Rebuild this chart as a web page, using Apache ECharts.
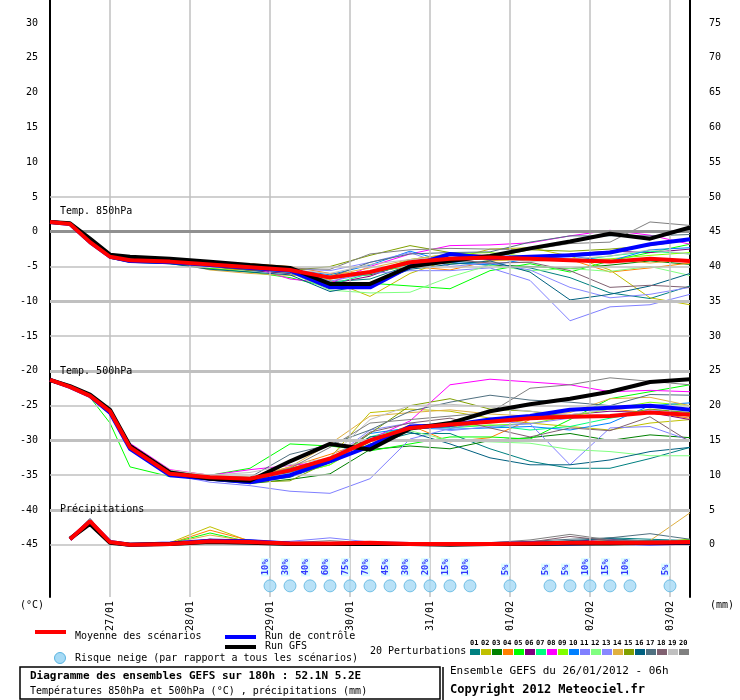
<!DOCTYPE html>
<html>
<head>
<meta charset="utf-8">
<script src="https://cdn.jsdelivr.net/npm/echarts@6/dist/echarts.min.js"></script>
<style>html,body{margin:0;padding:0;background:#fff}#chart{width:740px;height:700px}</style>
</head>
<body>
<div id="chart"></div>
<script>
// heures depuis le 26/01/2012 06h
var hours = [0,6,12,18,24,36,48,60,72,84,96,108,120,132,144,156,168,180,192];
var dayHours = [18,42,66,90,114,138,162,186];
var dayLabels = ['27/01','28/01','29/01','30/01','31/01','01/02','02/02','03/02'];
var pertColors = ['#008080','#c0c000','#008000','#ff8000','#00ff00','#800080','#00ff80','#ff00ff','#80ff00','#0080ff',
                  '#8080ff','#80ff80','#8888ff','#e0b040','#80a000','#006080','#507080','#806070','#c0c0c0','#808080'];

var t850Mean = [1.4,1.1,-1.5,-3.6,-4.1,-4.3,-4.7,-5.1,-5.5,-6.6,-5.8,-4.4,-3.9,-3.7,-3.9,-4.1,-4.3,-3.9,-4.2];
var t850Ctrl = [1.4,1.1,-1.5,-3.6,-4.2,-4.4,-4.8,-5.2,-5.6,-8.0,-8.0,-5.0,-3.2,-3.8,-3.6,-3.4,-3.0,-1.8,-1.1];
var t850Gfs  = [1.4,1.2,-1.0,-3.3,-3.6,-3.9,-4.3,-4.8,-5.2,-7.5,-7.5,-5.0,-4.2,-3.5,-2.4,-1.4,-0.3,-1.0,0.6];
var t850Pert = [
  [1.5,1.2,-1.4,-3.7,-4.3,-4.4,-5.0,-5.6,-6.0,-7.2,-6.8,-4.8,-4.2,-4.6,-5.2,-6.6,-8.8,-9.6,-7.8],
  [1.4,1.1,-1.6,-3.8,-4.4,-4.5,-5.3,-5.5,-5.8,-7.0,-9.3,-6.0,-4.0,-2.5,-2.3,-3.5,-5.5,-9.5,-10.5],
  [1.5,1.2,-1.5,-3.6,-4.1,-4.3,-4.9,-5.2,-5.7,-6.5,-6.2,-4.6,-4.5,-4.8,-5.0,-5.3,-4.8,-4.2,-4.7],
  [1.6,1.3,-1.3,-3.4,-4.0,-4.0,-4.4,-4.6,-5.0,-6.0,-5.8,-5.0,-5.5,-4.2,-3.8,-4.0,-5.8,-5.2,-4.5],
  [1.5,1.2,-1.5,-3.8,-4.3,-4.6,-5.3,-5.8,-6.6,-8.0,-7.4,-7.8,-8.2,-5.6,-4.6,-5.8,-4.2,-3.0,-1.8],
  [1.5,1.2,-1.4,-3.6,-4.1,-4.3,-5.0,-5.5,-6.0,-7.5,-6.4,-4.3,-3.2,-3.4,-3.8,-3.2,-2.8,-3.0,-2.5],
  [1.5,1.2,-1.5,-3.6,-4.0,-4.2,-4.6,-5.2,-5.5,-7.6,-6.0,-4.8,-3.8,-3.6,-3.9,-4.2,-3.5,-2.8,-3.2],
  [1.5,1.2,-1.3,-3.5,-4.1,-4.4,-4.6,-5.0,-6.8,-7.4,-5.0,-3.2,-2.0,-1.9,-1.6,-0.6,0.2,-0.5,-1.8],
  [1.5,1.1,-1.6,-3.7,-4.2,-4.4,-4.9,-5.3,-5.8,-6.8,-6.0,-4.0,-3.2,-3.0,-3.6,-4.1,-3.9,-3.4,-3.0],
  [1.5,1.2,-1.5,-3.6,-4.1,-4.3,-4.8,-5.0,-5.4,-6.2,-4.8,-2.8,-4.4,-4.8,-3.9,-3.5,-4.2,-2.6,-2.3],
  [1.5,1.2,-1.4,-3.6,-4.2,-4.4,-5.0,-5.4,-5.4,-7.1,-6.0,-5.6,-5.6,-5.2,-7.0,-12.8,-10.8,-10.5,-9.0],
  [1.5,1.2,-1.5,-3.7,-4.2,-4.4,-4.9,-5.4,-5.9,-8.4,-8.8,-8.7,-6.5,-4.8,-5.6,-5.3,-5.7,-5.0,-6.3],
  [1.5,1.2,-1.5,-3.6,-4.2,-4.5,-4.8,-5.2,-5.3,-5.6,-4.4,-3.0,-5.0,-4.5,-5.5,-8.0,-9.5,-9.0,-8.0],
  [1.5,1.2,-1.3,-3.5,-4.0,-4.3,-5.5,-6.0,-6.3,-6.3,-5.2,-4.0,-3.2,-4.2,-4.0,-4.2,-4.0,-4.5,-4.0],
  [1.5,1.2,-1.5,-3.7,-4.2,-4.5,-5.0,-5.5,-5.6,-5.0,-3.4,-2.0,-3.0,-3.7,-2.6,-2.8,-2.5,-2.0,-1.2],
  [1.5,1.2,-1.6,-3.8,-4.4,-4.6,-5.4,-5.8,-6.2,-8.6,-7.6,-5.4,-4.7,-4.2,-5.8,-9.8,-9.0,-7.8,-6.0],
  [1.5,1.2,-1.4,-3.6,-4.1,-4.3,-4.8,-5.0,-5.6,-6.5,-4.4,-3.2,-3.0,-2.9,-1.5,-0.6,-0.6,-0.6,-0.4],
  [1.5,1.2,-1.5,-3.7,-4.2,-4.4,-4.9,-5.3,-5.5,-6.4,-5.8,-4.5,-4.0,-4.5,-4.4,-5.6,-8.0,-7.7,-8.0],
  [1.5,1.2,-1.5,-3.6,-4.1,-4.3,-4.7,-5.0,-5.4,-6.0,-4.7,-4.0,-3.6,-3.8,-4.3,-3.9,-3.5,-2.6,-3.2],
  [1.5,1.2,-1.4,-3.6,-4.1,-4.3,-4.6,-4.9,-5.3,-5.4,-3.2,-2.6,-2.4,-2.5,-2.6,-1.7,-1.5,1.4,0.9]
];

var t500Mean = [-21.3,-22.3,-23.6,-25.8,-31.0,-34.8,-35.3,-35.5,-34.3,-32.6,-30.0,-28.2,-27.7,-27.3,-26.8,-26.6,-26.5,-26.0,-26.3];
var t500Ctrl = [-21.3,-22.3,-23.6,-26.0,-31.2,-35.0,-35.5,-36.0,-35.0,-33.0,-30.8,-28.0,-27.8,-27.0,-26.5,-25.6,-25.3,-25.0,-25.6];
var t500Gfs  = [-21.3,-22.2,-23.4,-25.6,-30.8,-34.6,-35.5,-35.8,-33.0,-30.5,-31.3,-28.3,-27.5,-25.8,-24.8,-24.0,-23.0,-21.6,-21.2];
var t500Pert = [
  [-21.5,-22.3,-23.5,-26.0,-30.8,-34.6,-35.5,-36.0,-35.3,-33.2,-30.5,-29.0,-29.0,-31.2,-33.0,-34.0,-34.0,-32.6,-31.0],
  [-21.5,-22.3,-23.6,-25.9,-30.6,-34.4,-35.2,-35.6,-34.0,-32.5,-26.0,-25.5,-25.8,-26.8,-27.5,-28.0,-28.5,-27.5,-27.0],
  [-21.5,-22.3,-23.7,-26.3,-31.2,-34.8,-35.7,-36.2,-35.6,-34.8,-31.3,-30.8,-31.2,-30.0,-29.6,-29.0,-30.0,-29.2,-29.6],
  [-21.5,-22.3,-23.6,-25.9,-30.8,-34.5,-35.2,-35.5,-33.8,-32.0,-30.0,-27.8,-30.2,-29.6,-27.0,-25.5,-25.5,-26.0,-26.8],
  [-21.5,-22.3,-23.8,-27.5,-33.8,-35.2,-35.0,-34.0,-30.5,-30.8,-31.5,-30.5,-29.5,-29.5,-29.8,-27.0,-24.0,-23.0,-22.0],
  [-21.5,-22.3,-23.5,-25.8,-30.7,-34.4,-35.3,-35.8,-35.2,-33.0,-30.0,-28.3,-27.5,-27.0,-26.5,-26.3,-25.8,-26.0,-27.0],
  [-21.5,-22.3,-23.6,-25.9,-30.8,-34.5,-35.4,-35.8,-35.0,-33.5,-29.5,-28.0,-28.2,-27.8,-28.5,-28.0,-26.8,-25.8,-26.5],
  [-21.5,-22.3,-23.4,-25.6,-30.4,-34.2,-35.0,-34.2,-33.6,-33.0,-29.8,-27.2,-22.0,-21.2,-21.6,-22.0,-23.0,-22.8,-23.0],
  [-21.5,-22.3,-23.6,-26.0,-30.9,-34.6,-35.5,-35.9,-35.0,-33.5,-30.2,-28.3,-28.0,-27.8,-27.6,-26.5,-25.5,-24.5,-25.0],
  [-21.5,-22.3,-23.6,-25.9,-30.8,-34.5,-35.4,-35.7,-34.6,-33.0,-29.0,-28.2,-28.4,-28.2,-28.0,-28.5,-27.5,-25.0,-24.6],
  [-21.5,-22.3,-23.7,-26.2,-31.1,-34.9,-36.0,-36.5,-37.3,-37.6,-35.5,-29.8,-28.3,-27.2,-27.6,-33.5,-28.2,-28.0,-30.0],
  [-21.5,-22.3,-23.6,-26.0,-30.9,-34.6,-35.5,-35.7,-34.6,-32.5,-29.5,-28.6,-30.0,-30.2,-30.4,-31.3,-31.6,-32.2,-32.2],
  [-21.5,-22.3,-23.6,-25.9,-30.8,-34.5,-35.3,-35.6,-34.5,-32.8,-28.5,-27.5,-28.6,-28.0,-27.6,-26.8,-26.5,-25.6,-26.0],
  [-21.5,-22.3,-23.5,-25.7,-30.6,-34.3,-35.0,-35.3,-33.8,-30.5,-26.5,-26.0,-25.6,-26.2,-26.5,-26.0,-24.0,-23.8,-25.0],
  [-21.5,-22.3,-23.6,-25.9,-30.8,-34.6,-35.5,-36.0,-35.8,-33.0,-29.0,-25.0,-24.0,-25.5,-25.8,-26.6,-26.5,-25.5,-26.0],
  [-21.5,-22.3,-23.6,-26.0,-30.9,-34.6,-35.5,-35.8,-34.5,-33.0,-29.5,-28.8,-30.5,-32.5,-33.5,-33.5,-32.8,-31.6,-31.0],
  [-21.5,-22.3,-23.5,-25.8,-30.7,-34.4,-35.2,-35.3,-32.0,-30.6,-28.5,-25.8,-24.5,-23.5,-24.2,-24.5,-25.0,-23.4,-23.5],
  [-21.5,-22.3,-23.6,-25.9,-30.8,-34.5,-35.5,-35.4,-34.0,-33.0,-28.8,-27.5,-26.8,-28.2,-29.5,-28.2,-28.6,-26.6,-30.2],
  [-21.5,-22.3,-23.5,-25.8,-30.6,-34.3,-35.0,-34.6,-33.5,-32.5,-27.0,-25.0,-24.8,-25.2,-25.8,-26.3,-25.5,-25.0,-25.5],
  [-21.5,-22.3,-23.6,-25.9,-30.8,-34.5,-35.4,-35.6,-34.0,-31.0,-27.5,-27.0,-26.5,-26.0,-22.5,-22.0,-21.0,-21.5,-22.0]
];

// precipitations en mm (axe de droite)
var rrMean = [null,0.8,3.4,0.4,0,0.1,0.5,0.4,0.2,0.2,0.3,0.1,0.1,0.1,0.2,0.3,0.3,0.3,0.4];
var rrCtrl = [null,0.8,3.3,0.4,0,0.2,0.6,0.5,0.2,0.1,0.2,0.1,0.1,0.1,0.2,0.2,0.3,0.2,0.3];
var rrGfs  = [null,0.9,3.0,0.3,0,0.1,0.4,0.3,0.1,0.1,0.1,0.1,0,0.1,0.1,0.2,0.2,0.3,0.3];
var rrPert = [
  [null,0.8,3.5,0.4,0,0.2,0.5,0.4,0.2,0.1,0.1,0.1,0.1,0.2,0.2,0.4,1.0,0.8,0.6],
  [null,0.7,3.1,0.3,0,0.3,2.6,0.5,0.2,0.1,0.2,0.1,0,0.1,0.3,0.2,0.4,0.3,0.8],
  [null,0.8,3.3,0.2,0,0.1,0.8,0.3,0.1,0.1,0.2,0.1,0.1,0.2,0.1,0.4,0.2,0.3,0.5],
  [null,0.7,3.1,0.3,0,0.2,2.1,0.6,0.2,0.3,0.2,0.1,0.1,0.1,0.2,0.3,0.5,0.4,0.3],
  [null,0.8,3.2,0.3,0,0.2,1.7,0.4,0.2,0.2,0.1,0.1,0,0.1,0.2,0.3,0.6,0.4,0.7],
  [null,0.8,3.4,0.4,0,0.1,0.4,0.2,0.1,0.1,0.1,0,0.1,0.1,0.3,0.5,0.8,0.4,0.3],
  [null,0.9,3.6,0.4,0,0.2,0.6,0.3,0.2,0.1,0.1,0.1,0,0.1,0.2,0.2,0.3,0.2,0.4],
  [null,0.8,3.2,0.3,0,0.1,0.2,0.1,0.1,0.1,0,0,0,0.1,0.1,0.2,0.1,0.2,0.1],
  [null,0.7,3.3,0.3,0,0.2,0.5,0.3,0.2,0.2,0.1,0.1,0.1,0.2,0.1,0.3,0.4,0.5,0.3],
  [null,0.8,3.5,0.4,0,0.2,0.5,0.4,0.1,0.1,0.2,0.1,0,0.1,0.2,0.2,0.2,0.3,0.2],
  [null,0.9,3.7,0.5,0,0.3,0.6,0.4,0.5,1.0,0.4,0.1,0.1,0.2,0.3,0.4,0.5,0.6,0.5],
  [null,0.7,3.2,0.3,0,0.2,0.4,0.3,0.2,0.1,0.2,0.1,0.1,0.1,0.2,0.3,0.4,0.3,0.4],
  [null,0.8,3.4,0.3,0,0.2,0.6,0.4,0.2,0.3,0.2,0.1,0,0.1,0.3,0.4,0.5,0.4,0.6],
  [null,0.8,3.3,0.4,0,0.2,1.4,0.5,0.2,0.2,0.1,0.1,0.1,0.2,0.2,0.3,0.4,0.6,4.6],
  [null,0.8,3.1,0.3,0,0.1,0.5,0.2,0.1,0.1,0.1,0.1,0.1,0.2,0.2,0.3,0.3,0.4,0.5],
  [null,0.8,3.4,0.4,0,0.2,0.6,0.4,0.2,0.2,0.2,0.1,0.1,0.2,0.3,0.6,0.9,0.5,0.4],
  [null,0.9,3.8,0.4,0,0.2,0.5,0.4,0.2,0.2,0.2,0.1,0.1,0.3,0.5,0.8,1.0,1.6,0.8],
  [null,0.7,3.2,0.3,0,0.2,0.7,0.6,0.3,0.2,0.2,0.1,0.1,0.2,0.4,1.2,0.6,0.4,0.5],
  [null,0.8,3.3,0.3,0,0.1,0.4,0.2,0.1,0.1,0.1,0.1,0,0.1,0.2,0.3,0.3,0.3,0.3],
  [null,0.8,3.6,0.4,0,0.2,0.8,0.7,0.3,0.6,0.3,0.1,0.1,0.3,0.7,1.5,0.7,0.6,0.5]
];

// risque neige
var snowHours = [66,72,78,84,90,96,102,108,114,120,126,138,150,156,162,168,174,186];
var snowPct   = [10,30,40,60,75,70,45,30,20,15,10,5,5,5,10,15,10,5];

function pairs(vals, shift) {
  return hours.map(function (h, i) {
    return [h, vals[i] == null ? null : vals[i] + shift];
  });
}
function line(vals, color, width, z, shift) {
  return {
    type: 'line', data: pairs(vals, shift || 0), showSymbol: false, silent: true,
    lineStyle: { color: color, width: width }, itemStyle: { color: color }, z: z, animation: false
  };
}

var series = [];
var hLines = [];
for (var v = -45; v <= 5; v += 5) {
  hLines.push({ yAxis: v, lineStyle: { color: v === 0 ? '#909090' : '#c0c0c0', width: (v % 10 === 0) ? 3 : 1.5 } });
}
var vLines = dayHours.map(function (h) { return { xAxis: h }; });
series.push({
  type: 'line', data: [], silent: true, z: 1,
  markLine: { symbol: 'none', silent: true, label: { show: false }, animation: false,
    lineStyle: { color: '#c0c0c0', width: 1.5, type: 'solid' }, data: vLines.concat(hLines) }
});

var k;
for (k = 0; k < 20; k++) series.push(line(t850Pert[k], pertColors[k], 1, 2));
for (k = 0; k < 20; k++) series.push(line(t500Pert[k], pertColors[k], 1, 2));
for (k = 0; k < 20; k++) series.push(line(rrPert[k], pertColors[k], 1, 2, -45));
[[t850Ctrl, t850Gfs, t850Mean], [t500Ctrl, t500Gfs, t500Mean], [rrCtrl, rrGfs, rrMean]].forEach(function (g, i) {
  var sh = i === 2 ? -45 : 0;
  series.push(line(g[0], '#0000ff', 4, 5, sh));
  series.push(line(g[1], '#000000', 4, 6, sh));
  series.push(line(g[2], '#ff0000', 4, 7, sh));
});
series.push({
  type: 'scatter', z: 8, silent: true, animation: false,
  data: snowHours.map(function (h, i) { return [h, -50.9, snowPct[i]]; }),
  symbol: 'circle', symbolSize: 12,
  itemStyle: { color: '#a6daf5', borderColor: '#5ab4e0', borderWidth: 1 },
  label: { show: true, position: 'top', rotate: 90, distance: 3, align: 'left',
    formatter: function (p) { return p.value[2] + '%'; },
    color: '#0000ff', fontSize: 9, fontWeight: 'bold', fontFamily: 'DejaVu Sans Mono',
    backgroundColor: '#d6fbff', padding: [0, 1] }
});

var mono = 'DejaVu Sans Mono';
var leftVals = [], rightVals = [];
for (var a = -45; a <= 30; a += 5) { leftVals.push(a); rightVals.push(a + 45); }

function txt(x, y, s, font) {
  return { type: 'text', left: x, top: y, z: 100, style: { text: s, font: font || ('10px ' + mono), fill: '#000' } };
}
var graphics = [
  txt(60, 206, 'Temp. 850hPa'),
  txt(60, 366, 'Temp. 500hPa'),
  txt(60, 504, 'Précipitations'),
  txt(20, 600, '(°C)'),
  txt(710, 600, '(mm)'),
  { type: 'rect', shape: { x: 35, y: 630, width: 31, height: 4 }, style: { fill: '#ff0000' } },
  txt(75, 631, 'Moyenne des scénarios'),
  { type: 'rect', shape: { x: 225, y: 635, width: 31, height: 4 }, style: { fill: '#0000ff' } },
  txt(265, 631, 'Run de contrôle'),
  { type: 'rect', shape: { x: 225, y: 645, width: 31, height: 4 }, style: { fill: '#000000' } },
  txt(265, 641, 'Run GFS'),
  { type: 'circle', shape: { cx: 60, cy: 658, r: 5.5 }, style: { fill: '#a6daf5', stroke: '#5ab4e0' } },
  txt(75, 653, 'Risque neige (par rapport a tous les scénarios)'),
  txt(370, 646, '20 Perturbations'),
  { type: 'rect', shape: { x: 20, y: 667, width: 420, height: 32 }, style: { fill: 'none', stroke: '#000', lineWidth: 1.5 } },
  txt(30, 671, 'Diagramme des ensembles GEFS sur 180h : 52.1N 5.2E', 'bold 11px ' + mono),
  txt(30, 686, 'Températures 850hPa et 500hPa (°C) , précipitations (mm)'),
  { type: 'line', shape: { x1: 443, y1: 667, x2: 443, y2: 700 }, style: { stroke: '#000', lineWidth: 1.5 } },
  txt(450, 666, 'Ensemble GEFS du 26/01/2012 - 06h', '11px ' + mono),
  txt(450, 684, 'Copyright 2012 Meteociel.fr', 'bold 12px ' + mono)
];
pertColors.forEach(function (c, i) {
  var x = 470 + i * 11;
  graphics.push({ type: 'rect', shape: { x: x, y: 649, width: 10, height: 6 }, style: { fill: c } });
  graphics.push(txt(x, 640, (i < 9 ? '0' : '') + (i + 1), 'bold 7px ' + mono));
});

var myChart = echarts.init(document.getElementById('chart'));
var option = {
  animation: false,
  backgroundColor: '#fff',
  grid: { left: 50, right: 50, top: 0, bottom: 103 },
  xAxis: {
    type: 'value', min: 0, max: 192,
    axisLine: { lineStyle: { color: '#000', width: 2 } },
    axisTick: { show: false },
    splitLine: { show: false },
    axisLabel: { customValues: dayHours, rotate: 90, margin: 4, color: '#000', fontSize: 10, fontFamily: mono,
      formatter: function (v) { return dayLabels[dayHours.indexOf(v)] || ''; } }
  },
  yAxis: [{
    type: 'value', min: -52.5, max: 33.3, position: 'left',
    axisLine: { show: true, lineStyle: { color: '#000', width: 2 } },
    axisTick: { show: false }, splitLine: { show: false },
    axisLabel: { customValues: leftVals, color: '#000', fontSize: 10, fontFamily: mono, margin: 12 }
  }, {
    type: 'value', min: -7.5, max: 78.3, position: 'right',
    axisLine: { show: true, lineStyle: { color: '#000', width: 2 } },
    axisTick: { show: false }, splitLine: { show: false },
    axisLabel: { customValues: rightVals, color: '#000', fontSize: 10, fontFamily: mono, margin: 19 }
  }],
  series: series,
  graphic: graphics
};
myChart.setOption(option);
</script>
</body>
</html>
